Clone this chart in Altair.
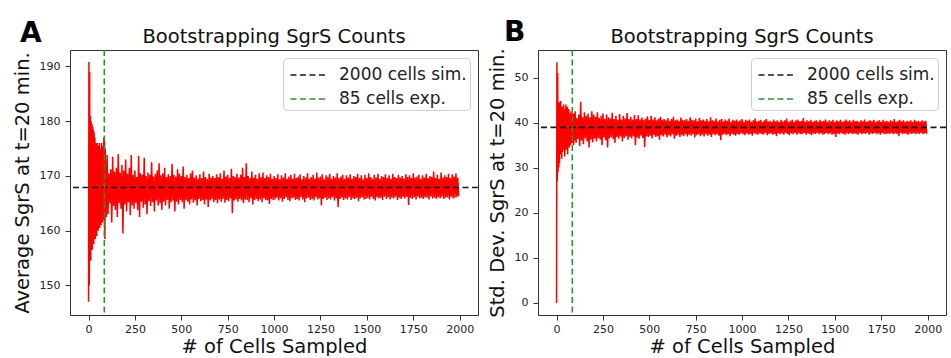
import altair as alt
import pandas as pd

# ---------------- data ----------------
# early samples, x = 0, 2, 4, ..., 98
early_x = list(range(0, 100, 2))
early_a = [147, 190.8, 150, 189, 155, 181, 154.5, 180, 157, 179.5,
           156.5, 179, 158, 178.5, 157.5, 178, 159, 177, 158.5, 176,
           160, 175.5, 159, 176, 161, 175.5, 160, 175, 161.5, 176,
           160.5, 175, 162, 174.5, 161, 176, 162.5, 175, 161.5, 175.5,
           163, 177, 162, 176.5, 158.5, 175, 163, 172, 162.5, 171]
early_b = [0, 53.4, 27, 51, 29, 44, 30, 44.5, 31, 43,
           33, 44.8, 34, 42, 32, 43.5, 33.5, 42.5, 35, 44,
           34, 43, 32.5, 42, 35.5, 44, 34, 42.5, 35, 43.5,
           33, 42, 35.5, 43, 34.5, 42, 36, 41.5, 35, 42.5,
           36, 41, 35.5, 42, 36.5, 41.5, 35, 42, 36, 41]

# later samples: highs at x = 100, 110, ..., 1990 ; lows at x = 105, 115, ..., 1995
high_x = list(range(100, 2000, 10))
low_x = list(range(105, 2000, 10))
high_a = [
    173.8, 170.5, 171.2, 173.5, 170.8, 171.5, 174, 170.6, 172, 171,
    173, 170.4, 171.5, 173.8, 170.2, 171, 169.8, 173.7, 170.5, 170.2,
    173.3, 170, 170.6, 170.2, 172.5, 169.9, 170.4, 171, 172.3, 170.1,
    170.5, 171.5, 169.8, 170.3, 170, 172.2, 170.2, 169.9, 171.2, 170.4,
    170, 171.7, 169.8, 170.2, 169.6, 170.5, 171, 169.7, 170.1, 169.5,
    170.3, 169.6, 170.8, 169.8, 169.5, 170.4, 169.7, 170, 169.6, 170.3,
    169.8, 170.5, 169.5, 171, 169.9, 170.2, 169.6, 171.3, 170, 169.8,
    170.4, 169.7, 170.2, 171.5, 169.8, 172.3, 170, 169.6, 170.8, 169.7,
    170.2, 169.5, 170.5, 169.8, 170.6, 169.6, 170.1, 169.8, 170.4, 169.5,
    170, 169.6, 170.3, 169.4, 170.1, 169.7, 170.5, 169.5, 169.9, 170.2,
    169.5, 170.4, 169.6, 169.9, 170.3, 169.4, 170, 169.7, 170.5, 169.5,
    169.8, 170.2, 169.5, 170.6, 169.7, 169.9, 170.3, 169.4, 170.1, 169.8,
    170.4, 169.5, 170, 169.7, 170.5, 169.6, 169.9, 170.2, 169.5, 170.1,
    169.7, 170.3, 169.5, 170, 169.8, 170.4, 169.6, 170.1, 169.4, 170.2,
    169.6, 170.5, 169.8, 169.5, 170.2, 169.7, 170.4, 169.5, 170, 169.8,
    170.3, 169.6, 170.1, 169.5, 170.4, 169.8, 169.6, 170.2, 169.7, 170,
    169.5, 170.3, 169.8, 170.1, 169.6, 170.5, 169.7, 169.9, 170.2, 169.5,
    170.1, 169.7, 170.4, 169.6, 170, 169.8, 170.8, 169.6, 170.2, 169.5,
    170.6, 169.7, 170.1, 169.8, 170.4, 169.6, 170.3, 169.9, 170.5, 169.7]
low_a = [
    163, 165, 161.5, 164.5, 163.8, 162.5, 165, 164, 159.5, 164.8,
    163.5, 165.2, 162.8, 164.6, 164, 165, 163.8, 162.5, 165.3, 164.2,
    164.8, 163, 165.4, 164.5, 165.2, 163.5, 165.5, 164.6, 165, 163.8,
    165.3, 164.6, 165.6, 164, 165.2, 165.5, 163.5, 165.3, 164.8, 165.6,
    165.2, 164, 165.6, 165.3, 164.8, 165.7, 165.1, 165.5, 164.6, 165.8,
    165.4, 165.6, 164.8, 165.7, 164.3, 165.5, 165.8, 165.2, 165.6, 165,
    165.7, 165.3, 165.8, 165.1, 165.6, 165.4, 165.9, 163.2, 165.5, 165.7,
    165.3, 165.8, 165.5, 165, 165.7, 165.6, 165.2, 165.9, 164.8, 165.6,
    165.8, 165.4, 165.7, 165.2, 165.9, 165.6, 165.5, 164.9, 165.8, 165.6,
    165.7, 166, 165.5, 165.9, 165.3, 165.8, 166.1, 165.6, 165.4, 165.9,
    166, 165.6, 165.8, 165.5, 166.1, 165.7, 165.2, 165.9, 166, 165.6,
    165.8, 165.5, 166.1, 165.7, 165.9, 164.6, 165.8, 166, 165.6, 165.9,
    165.7, 166.1, 165.5, 165.9, 164.3, 165.8, 166, 165.6, 165.9, 165.7,
    166.1, 165.6, 165.9, 165.8, 166, 165.4, 165.9, 166.1, 165.7, 165.8,
    166, 165.7, 166.2, 165.8, 165.5, 166.1, 165.9, 166, 165.6, 166.2,
    165.8, 166.1, 165.7, 166, 165.9, 166.2, 165.6, 166, 165.8, 166.1,
    165.9, 166.2, 164.7, 166, 165.8, 166.1, 165.7, 166.2, 165.9, 166,
    165.8, 166.1, 166, 165.7, 166.2, 165.9, 166, 165.8, 166.1, 165.9,
    166.2, 165.8, 166, 166.1, 165.7, 166.2, 165.9, 166, 166.1, 166.3]
high_b = [
    42.5, 41, 41.8, 44.6, 41.2, 42.3, 41.5, 42, 41.2, 42.5,
    41.8, 41.3, 42.3, 41, 41.5, 42, 40.8, 41.8, 41.2, 40.9,
    42.2, 40.8, 41.5, 40.6, 41.9, 40.7, 41.5, 40.9, 42.1, 40.8,
    41.3, 40.6, 41.7, 40.8, 41.6, 40.7, 41.1, 40.6, 40.9, 41.4,
    40.6, 41.5, 40.7, 41.2, 40.5, 40.9, 41.3, 40.6, 40.8, 40.5,
    41, 40.4, 40.8, 41.3, 40.5, 40.7, 40.4, 41.1, 40.6, 40.5,
    40.8, 40.4, 41.2, 40.6, 40.5, 40.9, 40.3, 41.0, 40.5, 40.7,
    40.4, 40.8, 40.3, 41.2, 40.5, 40.4, 40.9, 40.3, 40.6, 40.8,
    40.3, 40.7, 40.4, 40.9, 40.2, 40.6, 40.4, 40.7, 40.3, 40.5,
    40.8, 40.2, 40.6, 40.4, 40.7, 40.2, 40.5, 40.9, 40.3, 40.4,
    40.6, 40.2, 40.5, 40.8, 40.3, 40.4, 40.2, 40.7, 40.3, 40.5,
    40.2, 40.6, 40.3, 40.5, 40.9, 40.2, 40.4, 40.6, 40.2, 40.5,
    40.7, 40.3, 40.4, 41.0, 40.2, 40.5, 40.3, 40.6, 40.2, 40.4,
    40.5, 40.2, 40.6, 40.3, 40.4, 40.7, 40.2, 40.5, 40.3, 40.6,
    40.2, 40.5, 40.3, 40.6, 40.2, 40.4, 40.7, 40.3, 40.5, 40.2,
    40.6, 40.3, 40.4, 40.2, 40.5, 40.3, 40.7, 40.2, 40.4, 40.5,
    40.3, 40.6, 40.2, 40.4, 40.5, 40.2, 40.6, 40.3, 40.4, 40.2,
    40.5, 40.3, 40.8, 40.2, 40.4, 40.6, 40.3, 40.5, 40.2, 40.4,
    40.3, 40.5, 40.2, 40.6, 40.3, 40.4, 40.2, 40.5, 40.3, 40.4]
low_b = [
    35.5, 36.3, 34.8, 36, 35.2, 36.5, 35.8, 34.5, 36.2, 35.6,
    36.4, 35.8, 36.6, 36.2, 35, 36.7, 36.1, 34.5, 36.5, 36.8,
    36.3, 35.5, 36.8, 36.4, 36.9, 35.8, 36.6, 37, 36.2, 36.8,
    36.5, 37, 35, 36.7, 36.4, 37.1, 36.6, 34.6, 36.9, 36.8,
    37.1, 36.5, 37.2, 36.8, 37, 36.2, 37.2, 36.9, 37.3, 36.7,
    37.2, 36.9, 37.4, 36.4, 37.1, 37.3, 36.8, 37.2, 37, 37.4,
    36.9, 37.3, 37.1, 37.4, 36.7, 37.2, 37.4, 37, 37.3, 36.9,
    37.4, 37.1, 37.3, 36.8, 37.5, 37.2, 37.4, 37.1, 36.1, 37.3,
    37.5, 37.2, 37.4, 37, 37.5, 37.3, 37.1, 37.5, 37.3, 37.6,
    37.4, 37.2, 37.6, 37.3, 37.5, 37.1, 37.6, 37.4, 37.3, 37.6,
    37.5, 37.3, 37.7, 37.2, 37.5, 37.6, 37.3, 37.5, 37, 37.6,
    37.4, 37.6, 37.3, 37.7, 37.5, 37.2, 37.6, 37.4, 37.7, 37.3,
    37.6, 37.4, 37.5, 37.7, 37.3, 37.6, 37.5, 37.2, 37.6, 37.5,
    37.7, 37.4, 37.6, 37.3, 37.5, 37.7, 37.4, 37.6, 37.3, 37.5,
    36.8, 37.6, 37.4, 37.7, 37.5, 37.3, 37.6, 37.5, 37.7, 37.4,
    37.6, 37.5, 37.3, 37.7, 37.4, 37.6, 37.5, 37.7, 37.3, 37.6,
    37.5, 37.7, 37.4, 37.6, 37.3, 37.7, 37.5, 37.4, 37.6, 37.5,
    37.7, 37.4, 37.6, 37.5, 37.0, 37.7, 37.4, 37.6, 37.5, 37.3,
    37.6, 37.5, 37.7, 37.4, 37.6, 37.5, 37.7, 37.4, 37.6, 37.5]

sim_mean = 167.9
sim_std = 38.95
exp_cells = 85

x_ticks = [0, 250, 500, 750, 1000, 1250, 1500, 1750, 2000]
y_ticks_a = [150, 160, 170, 180, 190]
y_ticks_b = [0, 10, 20, 30, 40, 50]
legend_labels = ["2000 cells sim.", "85 cells exp."]
panel_title = "Bootstrapping SgrS Counts"

assert len(early_a) == len(early_x) == len(early_b)
assert len(high_a) == len(high_x) == len(high_b) == len(low_a) == len(low_x) == len(low_b)

FONT = "DejaVu Sans"
W, H = 408, 265


def series(early, high, low):
    rows = [{"n": x, "v": v} for x, v in zip(early_x, early)]
    for hx, hv, lx, lv in zip(high_x, high, low_x, low):
        rows.append({"n": hx, "v": hv})
        rows.append({"n": lx, "v": lv})
    return pd.DataFrame(rows)


def panel(early, high, low, hval, ytitle, ydom, yticks, letter, lx, ly):
    df = series(early, high, low)
    xs = alt.Scale(domain=[-100, 2099], nice=False, zero=False)
    ys = alt.Scale(domain=ydom, nice=False, zero=False)
    xaxis = alt.Axis(values=x_ticks, format="d", title="# of Cells Sampled", grid=False,
                     labelFontSize=11, titleFontSize=19.5, titleFontWeight="normal",
                     tickSize=5, labelPadding=3, titlePadding=3, domain=False,
                     labelColor="#222", titleColor="#111", tickColor="#333",
                     labelFont=FONT, titleFont=FONT)
    yaxis = alt.Axis(values=yticks, format="d", title=ytitle, grid=False,
                     labelFontSize=11, titleFontSize=19.5, titleFontWeight="normal",
                     tickSize=5, labelPadding=5, titlePadding=7, domain=False,
                     labelColor="#222", titleColor="#111", tickColor="#333",
                     labelFont=FONT, titleFont=FONT)
    color = alt.Color("s:N", title=None,
                      scale=alt.Scale(domain=legend_labels, range=["#1a1a1a", "#2a922a"]),
                      legend=alt.Legend(orient="top-right", offset=8,
                                        symbolType="M-1.35,0H1.35", symbolSize=676,
                                        symbolStrokeWidth=1.6, symbolDash=[6, 3.5],
                                        symbolOffset=8, symbolFillColor="transparent",
                                        labelFontSize=17, labelFont=FONT, labelColor="#222",
                                        padding=3, strokeColor="#cccccc", fillColor="white",
                                        cornerRadius=4, rowPadding=2, labelOffset=17,
                                        labelLimit=400))
    line = alt.Chart(df).mark_line(color="#ff0000", strokeWidth=1.5, clip=True).encode(
        x=alt.X("n:Q", scale=xs, axis=xaxis),
        y=alt.Y("v:Q", scale=ys, axis=yaxis),
    )
    hrule = alt.Chart(pd.DataFrame({"v": [hval], "s": [legend_labels[0]]})).mark_rule(
        strokeDash=[6, 3.5], strokeWidth=1.6).encode(y=alt.Y("v:Q", scale=ys), color=color)
    vrule = alt.Chart(pd.DataFrame({"n": [exp_cells], "s": [legend_labels[1]]})).mark_rule(
        strokeDash=[6, 3.5], strokeWidth=1.6).encode(x=alt.X("n:Q", scale=xs), color=color)
    label = alt.Chart(pd.DataFrame({"t": [letter]})).mark_text(
        fontSize=28, fontWeight="bold", font=FONT, align="left", baseline="alphabetic", color="black"
    ).encode(text="t:N", x=alt.value(lx), y=alt.value(ly))
    title = alt.Chart(pd.DataFrame({"t": [panel_title]})).mark_text(
        fontSize=19.5, font=FONT, align="center", baseline="alphabetic", color="#111"
    ).encode(text="t:N", x=alt.value(W / 2), y=alt.value(-7))
    return alt.layer(line, hrule, vrule, label, title).properties(width=W, height=H)


pa = panel(early_a, high_a, low_a, sim_mean, "Average SgrS at t=20 min.",
           [144.6, 193.0], y_ticks_a, "A", -50, -8)
pb = panel(early_b, high_b, low_b, sim_std, "Std. Dev. SgrS at t=20 min.",
           [-2.67, 56.1], y_ticks_b, "B", -34, -9)

chart = alt.hconcat(pa, pb, spacing=60, bounds="flush").resolve_scale(
    color="independent").resolve_legend(color="independent").configure_view(
    stroke="#333", strokeWidth=1).properties(
    padding={"left": 11, "top": 18, "right": 0, "bottom": 0},
    background="white")

chart.save("out.html", embed_options={"renderer": "svg", "actions": False})
